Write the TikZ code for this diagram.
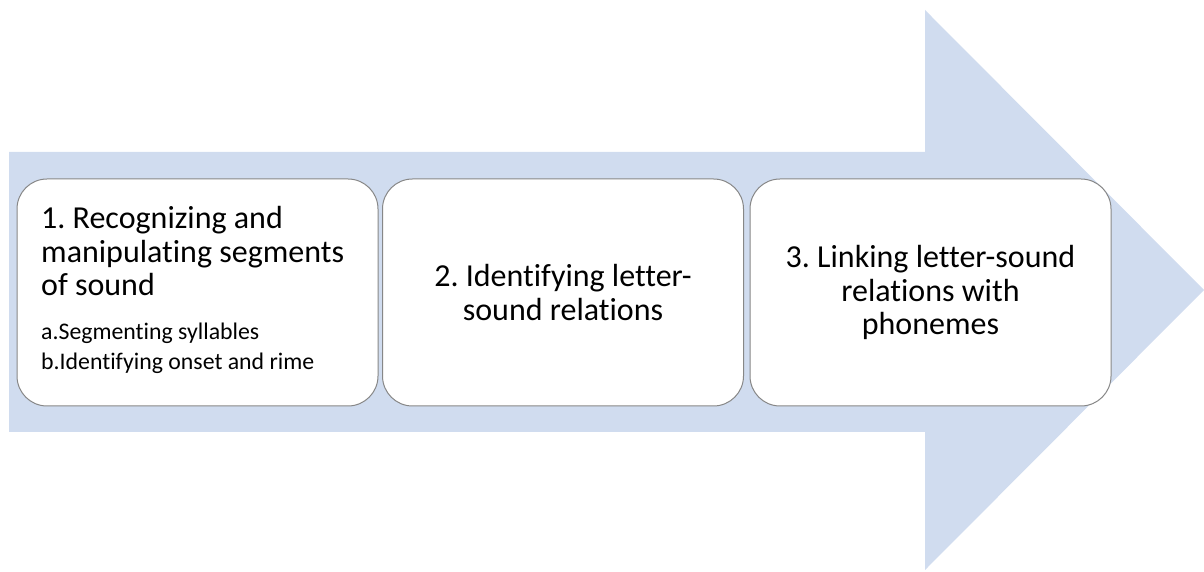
\documentclass[tikz,border=0pt]{standalone}
\usepackage{fontspec}
\setmainfont{Carlito}[Ligatures=NoCommon]
\definecolor{arrowblue}{RGB}{208,220,239}
\definecolor{boxline}{RGB}{135,135,135}
\tikzset{
  stagebox/.style={draw=boxline, line width=1pt, fill=white, rounded corners=30pt,
    minimum width=361pt, minimum height=227pt, inner sep=0pt},
  bigtext/.style={font=\fontsize{32}{33.5}\selectfont\frenchspacing, inner sep=0pt},
  smalltext/.style={font=\fontsize{23.8}{30}\selectfont\frenchspacing, inner sep=0pt},
}
\begin{document}
\begin{tikzpicture}[x=1pt,y=1pt]
\useasboundingbox (0,0) rectangle (1204,572);
\fill[arrowblue] (9,420) -- (925,420) -- (925,562) -- (1204,282) -- (925,2) -- (925,140) -- (9,140) -- cycle;
\node[stagebox] (b1) at (197.5,279.5) {};
\node[stagebox] (b2) at (563,279.5) {};
\node[stagebox] (b3) at (930.5,279.5) {};
\node[bigtext, anchor=base west, align=flush left, text width=330pt] (t1) at (41,343)
  {1. Recognizing and\\manipulating segments\\of sound};
\node[smalltext, anchor=base west, align=flush left, text width=330pt] (t1s) at (41,232)
  {a.Segmenting syllables\\b.Identifying onset and rime};
\node[bigtext, align=center] (t2) at (b2.center) {2. Identifying letter-\\sound relations};
\node[bigtext, align=center] (t3) at (b3.center) {3. Linking letter-sound\\relations with\\phonemes};
\end{tikzpicture}
\end{document}
